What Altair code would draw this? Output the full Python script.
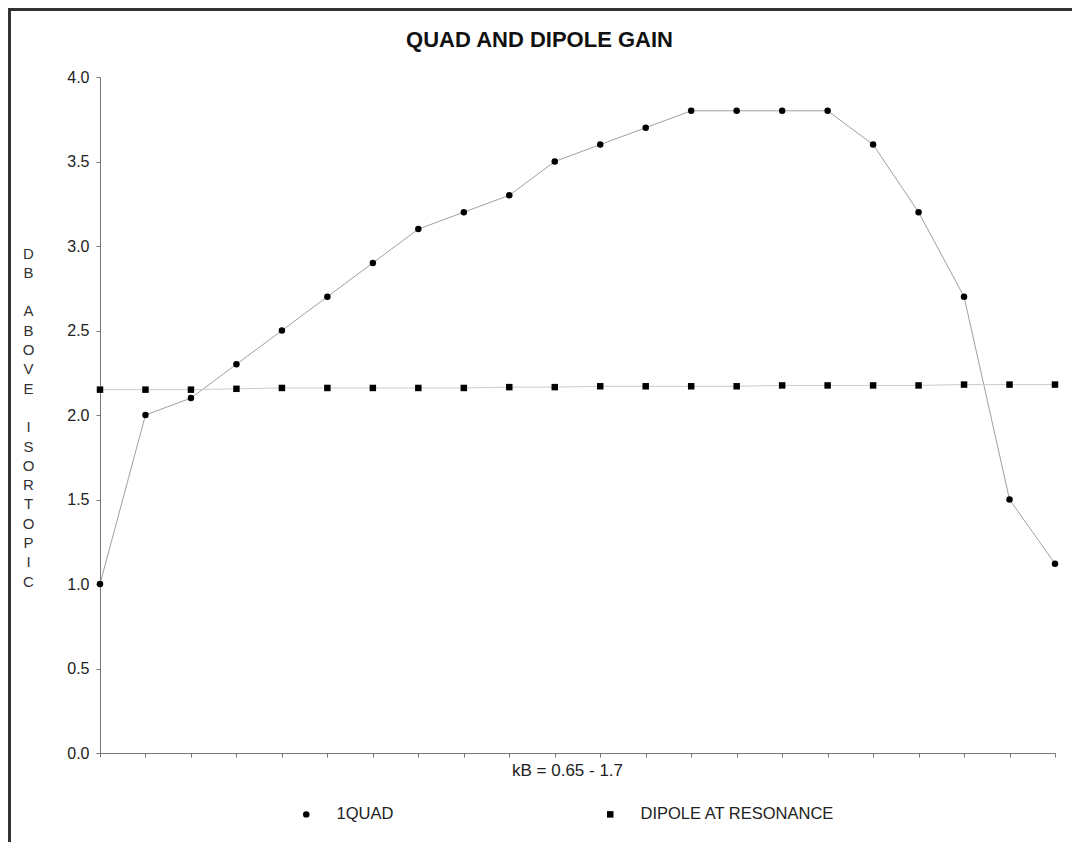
import altair as alt
import pandas as pd

# ---- data ----
kb_index = list(range(22))
quad_gain = [1.0, 2.0, 2.1, 2.3, 2.5, 2.7, 2.9, 3.1, 3.2, 3.3, 3.5,
             3.6, 3.7, 3.8, 3.8, 3.8, 3.8, 3.6, 3.2, 2.7, 1.5, 1.12]
dipole_gain = [2.15, 2.15, 2.15, 2.155, 2.16, 2.16, 2.16, 2.16, 2.16, 2.165, 2.165,
               2.17, 2.17, 2.17, 2.17, 2.175, 2.175, 2.175, 2.175, 2.18, 2.18, 2.18]
series_names = ["1QUAD", "DIPOLE AT RESONANCE"]
y_ticks = [0.0, 0.5, 1.0, 1.5, 2.0, 2.5, 3.0, 3.5, 4.0]
y_title_lines = ["D", "B", "\u200b", "A", "B", "O", "V", "E", "\u200b",
                 "I", "S", "O", "R", "T", "O", "P", "I", "C"]

df = pd.DataFrame({
    "idx": kb_index * 2,
    "gain": quad_gain + dipole_gain,
    "series": [series_names[0]] * len(kb_index) + [series_names[1]] * len(kb_index),
})

FONT = "Liberation Sans"
W, H = 955, 676

x_enc = alt.X("idx:Q",
              scale=alt.Scale(domain=[0, 21], nice=False, zero=False),
              axis=alt.Axis(values=kb_index, labels=False, grid=False,
                            domainColor="#777", tickColor="#777", tickSize=4,
                            title="kB = 0.65 - 1.7", titleFont=FONT,
                            titleFontSize=17, titleFontWeight="normal",
                            titleColor="#222", titleX=467, titleY=17,
                            titleBaseline="middle", titleAlign="center"))
y_enc = alt.Y("gain:Q",
              scale=alt.Scale(domain=[0, 4], nice=False),
              axis=alt.Axis(values=y_ticks, format=".1f", grid=False,
                            domainColor="#777", tickColor="#777", tickSize=4,
                            labelFont=FONT, labelFontSize=16, labelColor="#222",
                            labelPadding=7,
                            title=y_title_lines, titleFont=FONT, titleFontSize=15,
                            titleFontWeight="normal", titleColor="#333",
                            titleAngle=0, titleAlign="center",
                            titleBaseline="middle", titleLineHeight=19.3,
                            titleX=-72, titleY=176))

quad_line = alt.Chart(df).transform_filter(
    alt.datum.series == series_names[0]
).mark_line(strokeWidth=1, color="#a0a0a0").encode(x=x_enc, y=y_enc)

dipole_line = alt.Chart(df).transform_filter(
    alt.datum.series == series_names[1]
).mark_line(strokeWidth=1, color="#cccccc").encode(x=x_enc, y=y_enc)

points = alt.Chart(df).mark_point(filled=True, opacity=1, color="black", size=42).encode(
    x=x_enc, y=y_enc,
    shape=alt.Shape("series:N",
                    scale=alt.Scale(domain=series_names, range=["circle", "square"]),
                    legend=alt.Legend(title=None, orient="none", direction="horizontal",
                                      legendX=198, legendY=729, padding=0,
                                      labelFont=FONT, labelFontSize=16.5, labelColor="#222",
                                      labelOffset=22, columnPadding=208, labelLimit=400,
                                      symbolSize=42, symbolFillColor="black",
                                      symbolStrokeColor="black")),
)

frame_top = alt.Chart(df).mark_rule(color="#333", strokeWidth=2.5).encode(
    x=alt.value(-92), x2=alt.value(W + 20), y=alt.value(-68))
frame_left = alt.Chart(df).mark_rule(color="#333", strokeWidth=2.5).encode(
    x=alt.value(-91), y=alt.value(-69), y2=alt.value(H + 100))

chart = alt.layer(frame_top, frame_left, quad_line, dipole_line, points).properties(
    width=W, height=H,
    autosize=alt.AutoSizeParams(type="none"),
    padding={"left": 92, "top": 69, "right": 17, "bottom": 89},
    title=alt.TitleParams("QUAD AND DIPOLE GAIN", font=FONT, fontSize=22,
                          fontWeight="bold", color="#111", anchor="middle",
                          frame="group", dx=-38, dy=67, offset=0, baseline="bottom"),
).configure(background="white").configure_view(stroke=None)

chart.save("out.html", embed_options={"renderer": "svg", "actions": False})
